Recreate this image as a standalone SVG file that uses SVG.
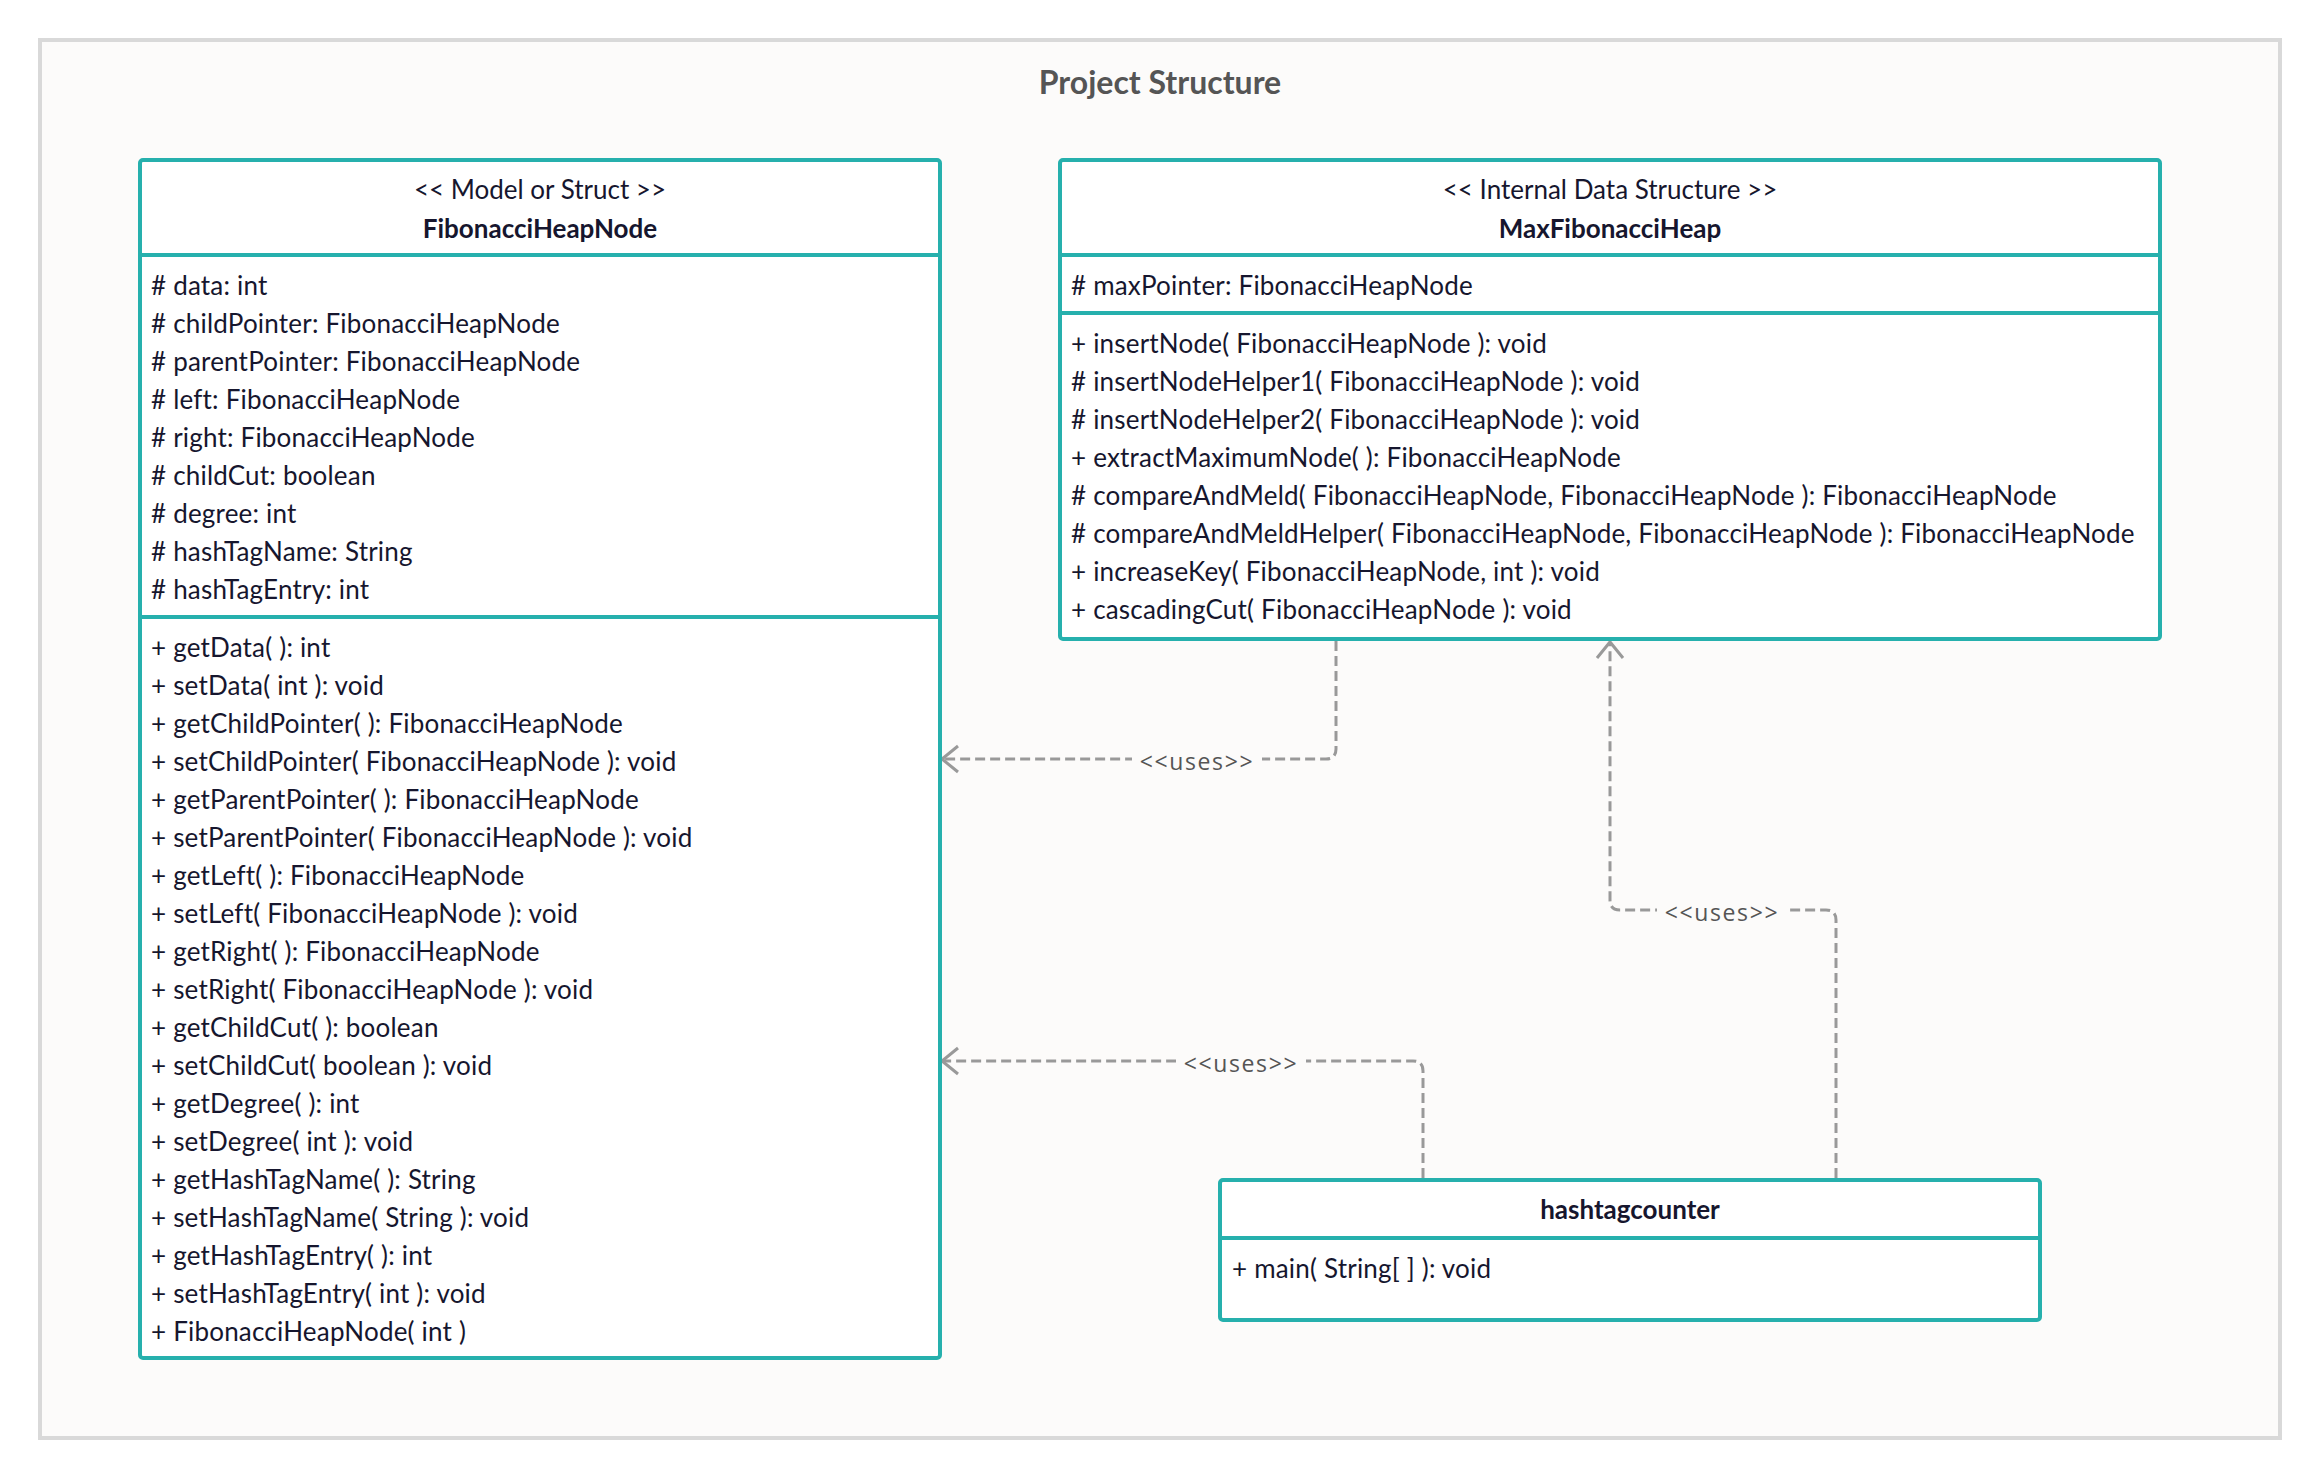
<svg xmlns="http://www.w3.org/2000/svg" width="2320" height="1480" viewBox="0 0 2320 1480">
  <style>
    .frame { fill: #fcfbfa; stroke: #d9d9d9; stroke-width: 4; }
    .title { font-family: Lato, "Open Sans", sans-serif; font-size: 32px; font-weight: bold; fill: #555555; text-anchor: middle; }
    .box { fill: #ffffff; stroke: #26b0ad; stroke-width: 4; }
    .div { stroke: #26b0ad; stroke-width: 4; }
    .stereo { font-family: Lato, "Open Sans", sans-serif; font-size: 26px; fill: #16162e; text-anchor: middle; }
    .name { font-family: Lato, "Open Sans", sans-serif; font-size: 26px; font-weight: bold; fill: #16162e; text-anchor: middle; }
    .row { font-family: Lato, "Open Sans", sans-serif; font-size: 26px; letter-spacing: 0.2px; fill: #16162e; }
    .edge { fill: none; stroke: #999999; stroke-width: 3; stroke-dasharray: 10 5; }
    .lblbg { fill: #fcfbfa; }
    .lbl { font-family: "Open Sans", sans-serif; font-size: 23px; fill: #555555; text-anchor: middle; letter-spacing: 1.6px; }
  </style>
  <defs>
    <marker id="open" markerUnits="userSpaceOnUse" markerWidth="40" markerHeight="40" refX="0" refY="0" orient="auto" overflow="visible">
      <path d="M-16,-13 L0,0 L-16,13" fill="none" stroke="#999999" stroke-width="3"/>
    </marker>
  </defs>

  <rect x="40" y="40" width="2240" height="1398" class="frame"/>
  <text x="1160" y="94" class="title">Project Structure</text>

  <!-- connectors -->
  <g id="connectors">
    <path class="edge" d="M1336,641 V749 Q1336,759 1326,759 H942" marker-end="url(#open)"/>
    <rect class="lblbg" x="1132" y="745" width="130" height="30"/>
    <text class="lbl" x="1197" y="770">&lt;&lt;uses&gt;&gt;</text>

    <path class="edge" d="M1836,1178 V920 Q1836,910 1826,910 H1620 Q1610,910 1610,900 V642" marker-end="url(#open)"/>
    <rect class="lblbg" x="1657" y="896" width="130" height="30"/>
    <text class="lbl" x="1722" y="921">&lt;&lt;uses&gt;&gt;</text>

    <path class="edge" d="M1423,1178 V1071 Q1423,1061 1413,1061 H942" marker-end="url(#open)"/>
    <rect class="lblbg" x="1176" y="1047" width="130" height="30"/>
    <text class="lbl" x="1241" y="1072">&lt;&lt;uses&gt;&gt;</text>
  </g>

  <!-- FibonacciHeapNode -->
  <g id="node-fibonacciheapnode">
    <rect class="box" x="140" y="160" width="800" height="1198" rx="3"/>
    <line class="div" x1="140" y1="255" x2="940" y2="255"/>
    <line class="div" x1="140" y1="617" x2="940" y2="617"/>
    <text class="stereo" x="540" y="199">&lt;&lt; Model or Struct &gt;&gt;</text>
    <text class="name" x="540" y="238">FibonacciHeapNode</text>
    <text class="row" x="151" y="295"># data: int</text>
    <text class="row" x="151" y="333"># childPointer: FibonacciHeapNode</text>
    <text class="row" x="151" y="371"># parentPointer: FibonacciHeapNode</text>
    <text class="row" x="151" y="409"># left: FibonacciHeapNode</text>
    <text class="row" x="151" y="447"># right: FibonacciHeapNode</text>
    <text class="row" x="151" y="485"># childCut: boolean</text>
    <text class="row" x="151" y="523"># degree: int</text>
    <text class="row" x="151" y="561"># hashTagName: String</text>
    <text class="row" x="151" y="599"># hashTagEntry: int</text>
    <text class="row" x="151" y="657">+ getData( ): int</text>
    <text class="row" x="151" y="695">+ setData( int ): void</text>
    <text class="row" x="151" y="733">+ getChildPointer( ): FibonacciHeapNode</text>
    <text class="row" x="151" y="771">+ setChildPointer( FibonacciHeapNode ): void</text>
    <text class="row" x="151" y="809">+ getParentPointer( ): FibonacciHeapNode</text>
    <text class="row" x="151" y="847">+ setParentPointer( FibonacciHeapNode ): void</text>
    <text class="row" x="151" y="885">+ getLeft( ): FibonacciHeapNode</text>
    <text class="row" x="151" y="923">+ setLeft( FibonacciHeapNode ): void</text>
    <text class="row" x="151" y="961">+ getRight( ): FibonacciHeapNode</text>
    <text class="row" x="151" y="999">+ setRight( FibonacciHeapNode ): void</text>
    <text class="row" x="151" y="1037">+ getChildCut( ): boolean</text>
    <text class="row" x="151" y="1075">+ setChildCut( boolean ): void</text>
    <text class="row" x="151" y="1113">+ getDegree( ): int</text>
    <text class="row" x="151" y="1151">+ setDegree( int ): void</text>
    <text class="row" x="151" y="1189">+ getHashTagName( ): String</text>
    <text class="row" x="151" y="1227">+ setHashTagName( String ): void</text>
    <text class="row" x="151" y="1265">+ getHashTagEntry( ): int</text>
    <text class="row" x="151" y="1303">+ setHashTagEntry( int ): void</text>
    <text class="row" x="151" y="1341">+ FibonacciHeapNode( int )</text>
  </g>

  <!-- MaxFibonacciHeap -->
  <g id="node-maxfibonacciheap">
    <rect class="box" x="1060" y="160" width="1100" height="479" rx="3"/>
    <line class="div" x1="1060" y1="255" x2="2160" y2="255"/>
    <line class="div" x1="1060" y1="313" x2="2160" y2="313"/>
    <text class="stereo" x="1610" y="199">&lt;&lt; Internal Data Structure &gt;&gt;</text>
    <text class="name" x="1610" y="238">MaxFibonacciHeap</text>
    <text class="row" x="1071" y="295"># maxPointer: FibonacciHeapNode</text>
    <text class="row" x="1071" y="353">+ insertNode( FibonacciHeapNode ): void</text>
    <text class="row" x="1071" y="391"># insertNodeHelper1( FibonacciHeapNode ): void</text>
    <text class="row" x="1071" y="429"># insertNodeHelper2( FibonacciHeapNode ): void</text>
    <text class="row" x="1071" y="467">+ extractMaximumNode( ): FibonacciHeapNode</text>
    <text class="row" x="1071" y="505"># compareAndMeld( FibonacciHeapNode, FibonacciHeapNode ): FibonacciHeapNode</text>
    <text class="row" x="1071" y="543"># compareAndMeldHelper( FibonacciHeapNode, FibonacciHeapNode ): FibonacciHeapNode</text>
    <text class="row" x="1071" y="581">+ increaseKey( FibonacciHeapNode, int ): void</text>
    <text class="row" x="1071" y="619">+ cascadingCut( FibonacciHeapNode ): void</text>
  </g>

  <!-- hashtagcounter -->
  <g id="node-hashtagcounter">
    <rect class="box" x="1220" y="1180" width="820" height="140" rx="3"/>
    <line class="div" x1="1220" y1="1238" x2="2040" y2="1238"/>
    <text class="name" x="1630" y="1219">hashtagcounter</text>
    <text class="row" x="1232" y="1278">+ main( String[ ] ): void</text>
  </g>
</svg>
